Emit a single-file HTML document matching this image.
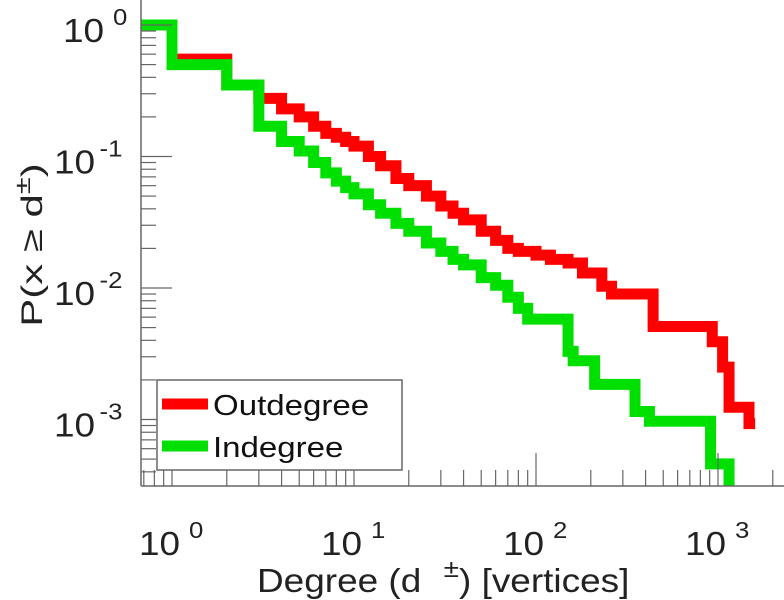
<!DOCTYPE html>
<html><head><meta charset="utf-8"><style>
html,body{margin:0;padding:0;background:#fff;}
svg{display:block;font-family:"Liberation Sans",sans-serif;}
</style></head><body>
<svg id="chart" width="784" height="600" viewBox="0 0 784 600" xmlns="http://www.w3.org/2000/svg">
<g id="series"></g>
<g id="axes"></g>
<g id="labels"></g>
<g id="legend">
  <rect x="157" y="380" width="245" height="90" fill="#fff" stroke="#666" stroke-width="1.5"/>
  <line x1="162" y1="404" x2="208" y2="404" stroke="#ff0000" stroke-width="11"/>
  <text x="0" y="0" transform="translate(213,415) scale(1.14,1)" font-size="29" fill="#111">Outdegree</text>
  <line x1="162" y1="446" x2="208" y2="446" stroke="#00e000" stroke-width="11"/>
  <text x="0" y="0" transform="translate(213,457) scale(1.14,1)" font-size="29" fill="#111">Indegree</text>
</g>
</svg>
<script>
const outDeg = [0.676,1,2,3,4,5,6,7,8,9,10,12,14,17,20,25,30,35,40,50,60,70,80,100,120,150,180,230,260,440,930,1060,1150,1480,1600];
const outP   = [1,0.55,0.35,0.277,0.23,0.2,0.17,0.15,0.14,0.13,0.12,0.1,0.085,0.068,0.06,0.05,0.042,0.037,0.033,0.027,0.023,0.02,0.019,0.0178,0.0165,0.0155,0.013,0.0103,0.009,0.0051,0.0039,0.0025,0.00124,0.00093,0.00093];
const inDeg = [0.676,1,2,3,4,5,6,7,8,9,10,12,14,17,20,25,30,35,40,50,60,70,80,90,150,160,210,350,420,910,1150];
const inP   = [1,0.5,0.35,0.17,0.13,0.11,0.09,0.075,0.065,0.058,0.052,0.043,0.037,0.031,0.027,0.022,0.019,0.0165,0.015,0.012,0.0105,0.0085,0.007,0.0058,0.0033,0.0028,0.00185,0.00115,0.00097,0.00046,0.0001];
const xTickExp = [0,1,2,3];
const yTickExp = [0,-1,-2,-3];

const X0=172, DX=182, Y0=25, DY=131.5, LEFT=141, BOTTOM=486, RIGHT=784;
const NS="http://www.w3.org/2000/svg";
function sx(v){return X0+Math.log10(v)*DX;}
function sy(v){return Y0-Math.log10(v)*DY;}
function mk(tag,attrs,parent){const e=document.createElementNS(NS,tag);for(const k in attrs)e.setAttribute(k,attrs[k]);parent.appendChild(e);return e;}

const series=document.getElementById('series');
function stepPath(xs,ys){
  let d='';
  for(let i=0;i<xs.length;i++){
    const x=sx(xs[i]), y=Math.min(sy(ys[i]),BOTTOM+20);
    if(i===0) d+='M'+x+' '+y;
    else { d+=' L'+x+' '+Math.min(sy(ys[i-1]),BOTTOM+20)+' L'+x+' '+y; }
  }
  return d;
}
const clip=mk('clipPath',{id:'plotclip'},series);
mk('rect',{x:LEFT,y:0,width:RIGHT-LEFT,height:BOTTOM},clip);
const pr=mk('path',{d:stepPath(outDeg,outP),fill:'none',stroke:'#ff0000','stroke-width':11,'clip-path':'url(#plotclip)'},series);


const pg=mk('path',{d:stepPath(inDeg,inP),fill:'none',stroke:'#00e000','stroke-width':11,'clip-path':'url(#plotclip)'},series);



const axes=document.getElementById('axes');
const ya=mk('line',{x1:LEFT,y1:0,x2:LEFT,y2:BOTTOM,stroke:'#666','stroke-width':1.5},axes);


const xa=mk('line',{x1:LEFT,y1:BOTTOM,x2:RIGHT,y2:BOTTOM,stroke:'#666','stroke-width':1.5},axes);


for(let e=-1;e<=3;e++){
  for(let m=1;m<10;m++){
    const x=sx(m*Math.pow(10,e));
    if(x<LEFT||x>RIGHT-2)continue;
    const t=mk('line',{x1:x,y1:BOTTOM,x2:x,y2:BOTTOM-(m===1?33:16),stroke:'#666','stroke-width':1.2},axes);
    
    
  }
}
for(let e=-4;e<=0;e++){
  for(let m=1;m<10;m++){
    const y=sy(m*Math.pow(10,e));
    if(y<0||y>BOTTOM)continue;
    const t=mk('line',{x1:LEFT,y1:y,x2:LEFT+(m===1?31:15),y2:y,stroke:'#666','stroke-width':1.2},axes);
    
    
  }
}
const labels=document.getElementById('labels');
xTickExp.forEach(e=>{
  const x=sx(Math.pow(10,e));
  const t=mk('text',{x:0,y:0,transform:'translate('+(x-33)+',555) scale(1.12,1)','font-size':33,fill:'#222'},labels);
  
  
  t.textContent='10';
  const s=mk('tspan',{dx:8,dy:-17,'font-size':23},t);
  s.textContent=String(e);
});
yTickExp.forEach(e=>{
  const y=sy(Math.pow(10,e));
  const t=mk('text',{x:0,y:0,transform:'translate('+(e===0?63:54)+','+(y+17)+') scale(1.12,1)','font-size':33,fill:'#222'},labels);
  
  
  t.textContent='10';
  const s=mk('tspan',{dx:e===0?8:4,dy:-17,'font-size':23},t);
  s.textContent=String(e);
});
const xt=mk('text',{x:0,y:0,transform:'translate(257,592) scale(1.12,1)','font-size':33,fill:'#222'},labels);


xt.textContent='Degree (d';
const xs1=mk('tspan',{dx:20,dy:-15,'font-size':25},xt);
xs1.textContent='\u00b1';
const xs2=mk('tspan',{dy:15},xt);
xs2.textContent=') [vertices]';
const yt=mk('text',{x:0,y:0,'font-size':30,fill:'#222','text-anchor':'middle',transform:'translate(42,245) rotate(-90) scale(1.4,1)'},labels);


yt.textContent='P(x \u2265 d';
const ys=mk('tspan',{dy:-12,'font-size':22},yt);
ys.textContent='\u00b1';
const ye=mk('tspan',{dy:12},yt);
ye.textContent=')';
</script>
</body></html>
